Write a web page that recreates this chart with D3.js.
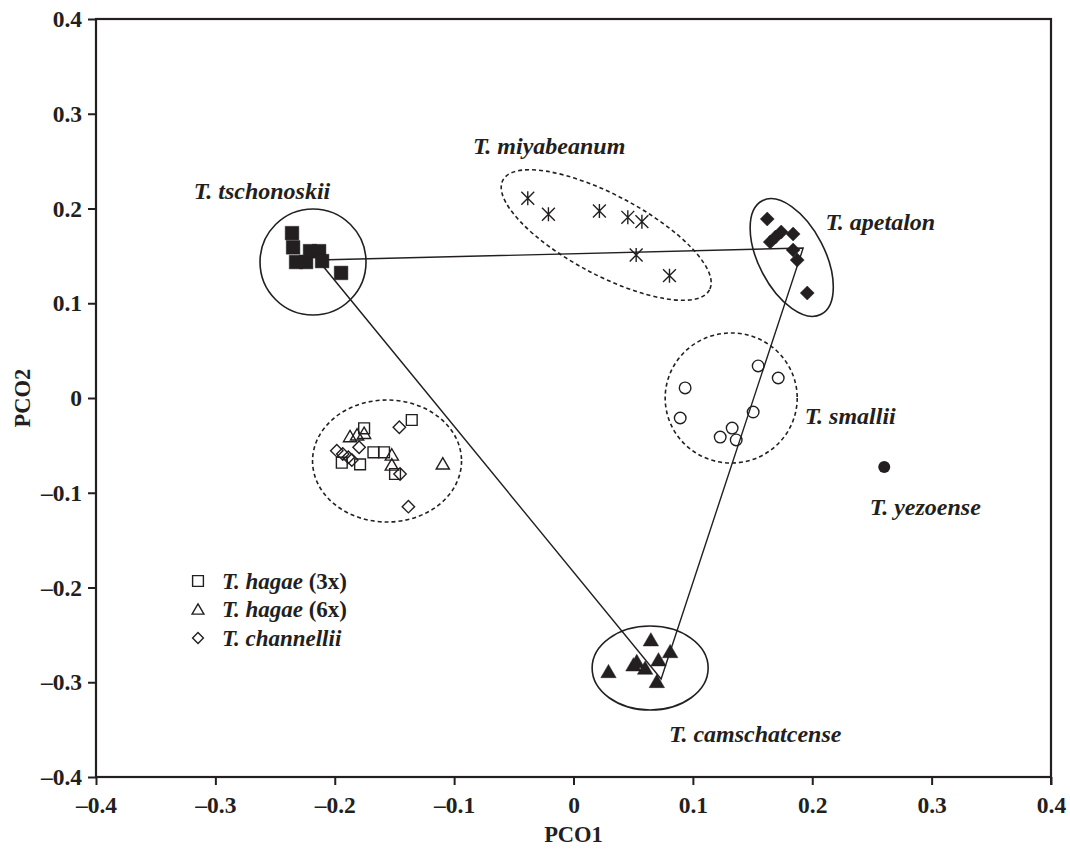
<!DOCTYPE html>
<html>
<head>
<meta charset="utf-8">
<script src="https://cdn.jsdelivr.net/npm/d3@7"></script>
<style>
  body { margin: 0; background: #fff; }
  svg text { font-family: "Liberation Serif", "Times New Roman", serif; font-weight: bold; fill: #231f20; }
  .label { font-style: italic; }
</style>
</head>
<body>
<svg id="chart" width="1070" height="853"></svg>
<script>
'use strict';

// tick values for both axes
var ticks = [-0.4, -0.3, -0.2, -0.1, 0, 0.1, 0.2, 0.3, 0.4];

// PCO scores
var tschonoskii = [[-0.2358, 0.174], [-0.2349, 0.159], [-0.2324, 0.1435], [-0.224, 0.1435], [-0.2207, 0.155],
    [-0.2131, 0.155], [-0.2106, 0.1445], [-0.1947, 0.132]];
var miyabeanum = [[-0.0383, 0.2108], [-0.021, 0.1939], [0.0217, 0.1974], [0.0455, 0.1907], [0.0573, 0.1861],
    [0.0525, 0.1509], [0.0804, 0.1291]];
var apetalon = [[0.1623, 0.1889], [0.1648, 0.1646], [0.1692, 0.1699], [0.174, 0.1752], [0.184, 0.1731],
    [0.184, 0.1562], [0.1874, 0.1456], [0.1958, 0.1108]];
var smallii = [[0.0935, 0.0106], [0.0894, -0.0211], [0.1229, -0.0412], [0.1329, -0.0317], [0.1363, -0.0443],
    [0.1505, -0.0148], [0.1547, 0.0338], [0.1715, 0.0211]];
var yezoense = [[0.2603, -0.0728]];
var camschatcense = [[0.0293, -0.2889], [0.0502, -0.2818], [0.053, -0.2783], [0.06, -0.2853], [0.0648, -0.2554],
    [0.0712, -0.2765], [0.081, -0.2678], [0.0698, -0.2994]];
var hagae3x = [[-0.1355, -0.0232], [-0.1754, -0.032], [-0.1676, -0.0573], [-0.1587, -0.0573], [-0.1941, -0.0683],
    [-0.1788, -0.07], [-0.1495, -0.0802]];
var hagae6x = [[-0.1872, -0.0408], [-0.1813, -0.039], [-0.1754, -0.0373], [-0.1522, -0.0602], [-0.1522, -0.0707],
    [-0.1095, -0.0696]];
var channellii = [[-0.1459, -0.0309], [-0.1796, -0.052], [-0.1983, -0.0556], [-0.1933, -0.0591], [-0.1886, -0.0626],
    [-0.1857, -0.0654], [-0.1453, -0.0802], [-0.1383, -0.1147]];

// triangle joining the diploid groups
var links = [[-0.214, 0.1456], [0.1924, 0.1583], [0.0734, -0.2966]];

// group envelopes: centre, semi axes (PCO1 units), tilt in degrees, dashed
var envelopes = [
    { cx: -0.2182, cy: 0.1435, rx: 0.0444, ry: 0.0444, tilt: 0, dashed: false },
    { cx: 0.0274, cy: 0.172, rx: 0.098, ry: 0.0335, tilt: 28, dashed: true },
    { cx: 0.1828, cy: 0.1483, rx: 0.0536, ry: 0.0277, tilt: 62.6, dashed: false },
    { cx: 0.1321, cy: 0.0, rx: 0.0553, ry: 0.0545, tilt: 0, dashed: true },
    { cx: -0.1562, cy: -0.0665, rx: 0.0624, ry: 0.0511, tilt: 0, dashed: true },
    { cx: 0.0642, cy: -0.285, rx: 0.0486, ry: 0.0352, tilt: 0, dashed: false }
];

// group names
var labels = [
    { text: 'T. tschonoskii', x: -0.2609, y: 0.21 },
    { text: 'T. miyabeanum', x: -0.0204, y: 0.2575 },
    { text: 'T. apetalon', x: 0.257, y: 0.1773 },
    { text: 'T. smallii', x: 0.2318, y: -0.0274 },
    { text: 'T. yezoense', x: 0.2947, y: -0.1235 },
    { text: 'T. camschatcense', x: 0.1522, y: -0.363 }
];

var legendNames = [['T. hagae', ' (3x)'], ['T. hagae', ' (6x)'], ['T. channellii', '']];
var legendShapes = ['square', 'triangle', 'diamond'];

var ink = '#231f20';
var margin = { top: 19, right: 19, bottom: 76, left: 96 },
    width = 1070 - margin.left - margin.right,
    height = 853 - margin.top - margin.bottom;

var svg = d3.select('#chart');
var g = svg.append('g').attr('transform', 'translate(' + margin.left + ',' + margin.top + ')');

var x = d3.scaleLinear().domain([-0.4, 0.4]).range([0, width]);
var y = d3.scaleLinear().domain([-0.4, 0.4]).range([height, 0]);

var fmt = function (v) {
    if (Math.abs(v) < 1e-9) return '0';
    return (v < 0 ? '\u2013' : '') + Math.abs(v).toFixed(1);
};

// marker shapes
function shapePath(type, s) {
    switch (type) {
        case 'square':
            return 'M' + (-s) + ',' + (-s) + 'H' + s + 'V' + s + 'H' + (-s) + 'Z';
        case 'triangle':
            return 'M0,' + (-s * 1.05) + 'L' + (s * 1.1) + ',' + (s * 0.85) + 'L' + (-s * 1.1) + ',' + (s * 0.85) + 'Z';
        case 'diamond':
            return 'M0,' + (-s) + 'L' + s + ',0L0,' + s + 'L' + (-s) + ',0Z';
        case 'star':
            var d = s * 0.92;
            return 'M0,' + (-s) + 'V' + s + 'M' + (-d) + ',' + (-d) + 'L' + d + ',' + d + 'M' + d + ',' + (-d) + 'L' + (-d) + ',' + d;
    }
}

// frame
g.append('rect').attr('width', width).attr('height', height)
    .attr('fill', 'none').attr('stroke', ink).attr('stroke-width', 2.2);

var yAxis = g.append('g').call(d3.axisLeft(y).tickValues(ticks).tickFormat(fmt).tickSize(8).tickSizeOuter(0).tickPadding(6));
var xAxis = g.append('g').attr('transform', 'translate(0,' + height + ')')
    .call(d3.axisBottom(x).tickValues(ticks).tickFormat(fmt).tickSize(8).tickSizeOuter(0).tickPadding(11));

[xAxis, yAxis].forEach(function (ax) {
    ax.select('.domain').remove();
    ax.selectAll('line').attr('stroke', ink).attr('stroke-width', 2);
    ax.selectAll('text').attr('font-size', 23.5).attr('fill', ink)
        .style('font-family', '"Liberation Serif", serif').style('font-weight', 'bold');
});
// the right edge carries a tick at 0.4 too
g.append('line').attr('x1', width).attr('x2', width).attr('y1', height).attr('y2', height + 8)
    .attr('stroke', ink).attr('stroke-width', 2);

// axis titles
g.append('text').attr('x', width / 2).attr('y', height + 65).attr('text-anchor', 'middle')
    .attr('font-size', 22.5).text('PCO1');
g.append('text').attr('transform', 'translate(' + (-66) + ',' + (height / 2) + ') rotate(-90)')
    .attr('text-anchor', 'middle').attr('font-size', 22.5).text('PCO2');

// envelopes
var unit = x(1) - x(0);
g.selectAll('ellipse.env').data(envelopes).enter().append('ellipse')
    .attr('class', 'env')
    .attr('cx', 0).attr('cy', 0)
    .attr('rx', function (d) { return d.rx * unit; })
    .attr('ry', function (d) { return d.ry * unit; })
    .attr('transform', function (d) { return 'translate(' + x(d.cx) + ',' + y(d.cy) + ') rotate(' + d.tilt + ')'; })
    .attr('fill', 'none').attr('stroke', ink).attr('stroke-width', 1.6)
    .attr('stroke-dasharray', function (d) { return d.dashed ? '4,3' : null; });

// connecting lines
g.append('path').datum(links)
    .attr('d', d3.line().x(function (d) { return x(d[0]); }).y(function (d) { return y(d[1]); }).curve(d3.curveLinearClosed))
    .attr('fill', 'none').attr('stroke', ink).attr('stroke-width', 1.4);

function drawGroup(data, type, size, filled) {
    g.append('g').selectAll('path').data(data).enter().append('path')
        .attr('transform', function (d) { return 'translate(' + x(d[0]) + ',' + y(d[1]) + ')'; })
        .attr('d', shapePath(type, size))
        .attr('fill', filled ? ink : 'none')
        .attr('stroke', ink)
        .attr('stroke-width', filled ? 0.5 : 1.4);
}

drawGroup(tschonoskii, 'square', 6.8, true);
drawGroup(miyabeanum, 'star', 7, false);
drawGroup(apetalon, 'diamond', 7, true);
drawGroup(camschatcense, 'triangle', 7, true);
drawGroup(hagae3x, 'square', 5.4, false);
drawGroup(hagae6x, 'triangle', 6, false);
drawGroup(channellii, 'diamond', 6.2, false);

g.append('g').selectAll('circle').data(smallii).enter().append('circle')
    .attr('cx', function (d) { return x(d[0]); }).attr('cy', function (d) { return y(d[1]); })
    .attr('r', 5.8).attr('fill', 'none').attr('stroke', ink).attr('stroke-width', 1.4);
g.append('g').selectAll('circle').data(yezoense).enter().append('circle')
    .attr('cx', function (d) { return x(d[0]); }).attr('cy', function (d) { return y(d[1]); })
    .attr('r', 6).attr('fill', ink);

// group labels
g.selectAll('text.label').data(labels).enter().append('text')
    .attr('class', 'label')
    .attr('x', function (d) { return x(d.x); }).attr('y', function (d) { return y(d.y); })
    .attr('text-anchor', 'middle').attr('font-size', 24)
    .text(function (d) { return d.text; });

// legend
var legend = g.append('g').attr('transform', 'translate(102,562)');
var rows = legend.selectAll('g').data(legendNames).enter().append('g')
    .attr('transform', function (d, i) { return 'translate(0,' + (i * 28.5) + ')'; });
rows.append('path')
    .attr('d', function (d, i) { return shapePath(legendShapes[i], 5.4); })
    .attr('fill', 'none').attr('stroke', ink).attr('stroke-width', 1.4);
var lt = rows.append('text').attr('x', 24).attr('y', 7.5).attr('font-size', 23);
lt.append('tspan').attr('font-style', 'italic').text(function (d) { return d[0]; });
lt.append('tspan').text(function (d) { return d[1]; });
</script>
</body>
</html>
